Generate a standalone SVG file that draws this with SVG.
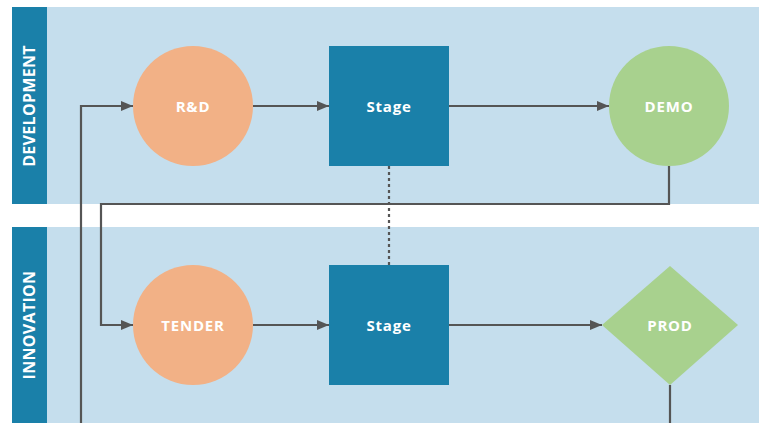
<svg xmlns="http://www.w3.org/2000/svg" width="759" height="423" viewBox="0 0 759 423">
  <defs>
    <marker id="arrow" viewBox="0 0 12 10" refX="12" refY="5" markerWidth="12" markerHeight="10" markerUnits="userSpaceOnUse" orient="auto">
      <path d="M0,0 L12,5 L0,10 Z" fill="#555555"/>
    </marker>
  </defs>
  <style>
    .lane { fill: #c5deed; }
    .header { fill: #1a80a9; }
    .lane-label { fill: #ffffff; font-family: "Open Sans", "Liberation Sans", sans-serif; font-weight: 700; font-size: 16px; letter-spacing: 0.3px; }
    .orange { fill: #f2b186; }
    .green { fill: #a8d18e; }
    .stage { fill: #1a80a9; }
    .label { fill: #ffffff; font-family: "Open Sans", "Liberation Sans", sans-serif; font-weight: 700; font-size: 15px; letter-spacing: 0.8px; text-anchor: middle; dominant-baseline: central; }
    .edge { fill: none; stroke: #555555; stroke-width: 2.2; }
    .dotted { fill: none; stroke: #555555; stroke-width: 2.2; stroke-dasharray: 3 3; }
  </style>

  <rect width="759" height="423" fill="#ffffff"/>

  <!-- swimlanes -->
  <g id="lane-development">
    <rect class="lane" x="12" y="7" width="747" height="197"/>
    <rect class="header" x="12" y="7" width="35" height="197"/>
    <text class="lane-label" transform="translate(35,106) rotate(-90)" text-anchor="middle">DEVELOPMENT</text>
  </g>
  <g id="lane-innovation">
    <rect class="lane" x="12" y="227" width="747" height="200"/>
    <rect class="header" x="12" y="227" width="35" height="200"/>
    <text class="lane-label" transform="translate(35,325) rotate(-90)" text-anchor="middle">INNOVATION</text>
  </g>

  <!-- connectors -->
  <g id="connectors">
    <path class="edge" d="M253,106 H329" marker-end="url(#arrow)"/>
    <path class="edge" d="M449,106 H609" marker-end="url(#arrow)"/>
    <path class="edge" d="M669,166 V204 H101 V325 H133" marker-end="url(#arrow)"/>
    <path class="edge" d="M253,325 H329" marker-end="url(#arrow)"/>
    <path class="edge" d="M449,325 H602" marker-end="url(#arrow)"/>
    <path class="edge" d="M670,385 V430"/>
    <path class="edge" d="M81,430 V106 H133" marker-end="url(#arrow)"/>
    <path class="dotted" d="M389,166 V265"/>
  </g>

  <!-- nodes -->
  <g id="node-rd">
    <circle class="orange" cx="193" cy="106" r="60"/>
    <text class="label" x="193" y="106">R&amp;D</text>
  </g>
  <g id="node-stage-dev">
    <rect class="stage" x="329" y="46" width="120" height="120"/>
    <text class="label" x="389" y="106">Stage</text>
  </g>
  <g id="node-demo">
    <circle class="green" cx="669" cy="106" r="60"/>
    <text class="label" x="669" y="106">DEMO</text>
  </g>
  <g id="node-tender">
    <circle class="orange" cx="193" cy="325" r="60"/>
    <text class="label" x="193" y="325">TENDER</text>
  </g>
  <g id="node-stage-inn">
    <rect class="stage" x="329" y="265" width="120" height="120"/>
    <text class="label" x="389" y="325">Stage</text>
  </g>
  <g id="node-prod">
    <polygon class="green" points="670,266 738,325 670,385 602,325"/>
    <text class="label" x="670" y="325">PROD</text>
  </g>
</svg>
